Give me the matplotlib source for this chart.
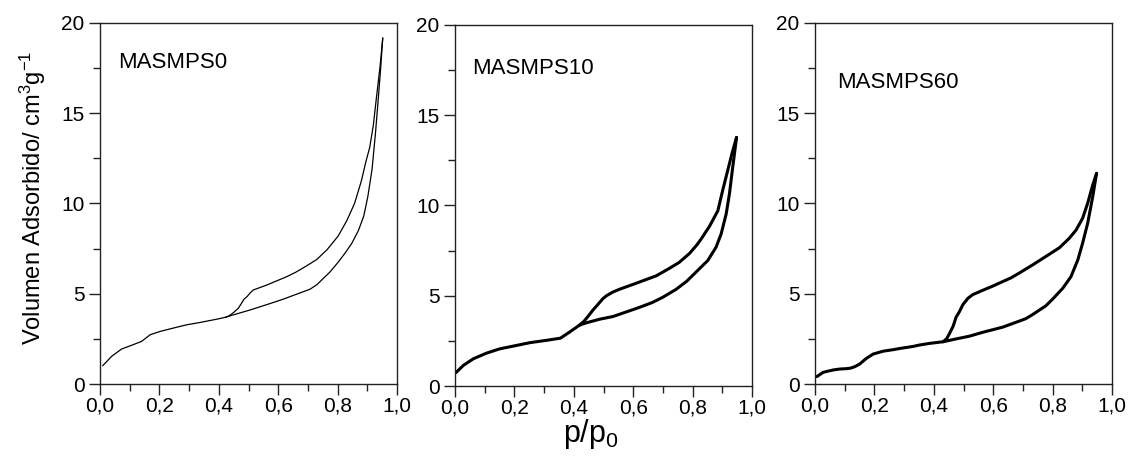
import numpy as np
import matplotlib
matplotlib.use("Agg")
import matplotlib.pyplot as plt
from matplotlib.ticker import MultipleLocator

plt.rcParams['font.family'] = ['Liberation Sans', 'DejaVu Sans']
plt.rcParams['mathtext.fontset'] = 'custom'
plt.rcParams['mathtext.rm'] = 'Liberation Sans'
plt.rcParams['mathtext.it'] = 'Liberation Sans'

# (p/p0, volumen adsorbido)
s0_ads_x = [0.009, 0.039, 0.073, 0.112, 0.14, 0.169, 0.202, 0.247, 0.292, 0.337, 0.393, 0.421,
            0.449, 0.505, 0.562, 0.617, 0.674, 0.707, 0.730, 0.774, 0.802, 0.825, 0.848, 0.870,
            0.888, 0.902, 0.916, 0.927, 0.936, 0.945, 0.952]
s0_ads_y = [1.01, 1.53, 1.94, 2.18, 2.36, 2.73, 2.91, 3.10, 3.28, 3.41, 3.59, 3.69,
            3.83, 4.10, 4.40, 4.70, 5.05, 5.25, 5.50, 6.20, 6.75, 7.25, 7.80, 8.50,
            9.30, 10.40, 11.9, 13.8, 15.6, 17.5, 19.17]
s0_des_x = [0.952, 0.943, 0.931, 0.92, 0.908, 0.895, 0.88, 0.857, 0.831, 0.802, 0.765, 0.73,
            0.696, 0.66, 0.628, 0.59, 0.561, 0.528, 0.516, 0.506, 0.495, 0.485, 0.466, 0.449,
            0.435, 0.421]
s0_des_y = [19.17, 17.6, 15.9, 14.3, 13.1, 12.3, 11.25, 10.0, 9.05, 8.2, 7.45, 6.9,
            6.55, 6.2, 5.94, 5.68, 5.48, 5.28, 5.21, 5.05, 4.84, 4.7, 4.2, 3.95,
            3.78, 3.69]

s10_ads_x = [0.003, 0.028, 0.062, 0.106, 0.151, 0.196, 0.252, 0.308, 0.355, 0.386, 0.419, 0.442,
             0.487, 0.532, 0.576, 0.62, 0.665, 0.70, 0.744, 0.78, 0.814, 0.851, 0.879, 0.896,
             0.913, 0.924, 0.935, 0.948]
s10_ads_y = [0.74, 1.14, 1.51, 1.82, 2.06, 2.21, 2.40, 2.53, 2.65, 2.99, 3.37, 3.50,
             3.70, 3.85, 4.10, 4.35, 4.63, 4.92, 5.35, 5.80, 6.35, 6.95, 7.69, 8.42,
             9.53, 10.64, 12.11, 13.77]
s10_des_x = [0.948, 0.935, 0.918, 0.901, 0.885, 0.857, 0.829, 0.816, 0.79, 0.755, 0.72, 0.677,
             0.644, 0.598, 0.554, 0.531, 0.51, 0.498, 0.476, 0.464, 0.45, 0.435, 0.419]
s10_des_y = [13.77, 13.03, 11.93, 10.82, 9.71, 8.85, 8.15, 7.85, 7.35, 6.85, 6.50, 6.10,
             5.90, 5.62, 5.36, 5.20, 5.00, 4.84, 4.42, 4.20, 3.90, 3.60, 3.37]

s60_ads_x = [0.006, 0.028, 0.062, 0.084, 0.106, 0.12, 0.134, 0.15, 0.173, 0.196, 0.23, 0.263,
             0.286, 0.33, 0.352, 0.386, 0.431, 0.47, 0.52, 0.566, 0.632, 0.677, 0.71, 0.733,
             0.777, 0.80, 0.817, 0.834, 0.862, 0.885, 0.901, 0.918, 0.935, 0.948]
s60_ads_y = [0.41, 0.65, 0.78, 0.83, 0.85, 0.88, 0.96, 1.10, 1.42, 1.66, 1.82, 1.90,
             1.97, 2.08, 2.16, 2.25, 2.34, 2.48, 2.65, 2.87, 3.15, 3.42, 3.62, 3.85,
             4.33, 4.70, 5.00, 5.30, 5.95, 6.88, 7.80, 8.90, 10.37, 11.67]
s60_des_x = [0.948, 0.935, 0.918, 0.901, 0.879, 0.856, 0.823, 0.79, 0.733, 0.688, 0.66, 0.622,
             0.598, 0.566, 0.531, 0.515, 0.498, 0.486, 0.475, 0.465, 0.453, 0.443, 0.431]
s60_des_y = [11.67, 11.02, 10.01, 9.18, 8.53, 8.07, 7.55, 7.20, 6.60, 6.15, 5.88, 5.60,
             5.42, 5.20, 4.95, 4.75, 4.40, 4.00, 3.70, 3.20, 2.80, 2.50, 2.34]

nombres = ['MASMPS0', 'MASMPS10', 'MASMPS60']
x_ticks = [0.0, 0.2, 0.4, 0.6, 0.8, 1.0]
x_labels = ['0,0', '0,2', '0,4', '0,6', '0,8', '1,0']
y_ticks = [0, 5, 10, 15, 20]
y_labels = ['0', '5', '10', '15', '20']

series = [
    (s0_ads_x, s0_ads_y, s0_des_x, s0_des_y),
    (s10_ads_x, s10_ads_y, s10_des_x, s10_des_y),
    (s60_ads_x, s60_ads_y, s60_des_x, s60_des_y),
]
grosor = [0.9, 2.2, 2.2]
lefts = [100, 455, 815]
bottoms = [77, 75, 77]
etiqueta_pos = [(0.06, 17.8), (0.057, 17.6), (0.074, 16.7)]

W, H = 1130, 461
fig = plt.figure(figsize=(W / 100, H / 100), dpi=100)

for i in range(3):
    ax = fig.add_axes([lefts[i] / W, bottoms[i] / H, 297 / W, 361 / H])
    ad_x, ad_y, de_x, de_y = series[i]
    ax.plot(ad_x, ad_y, color='black', lw=grosor[i], solid_capstyle='round', solid_joinstyle='round')
    ax.plot(de_x, de_y, color='black', lw=grosor[i], solid_capstyle='round', solid_joinstyle='round')
    ax.set_xlim(0, 1.0)
    ax.set_ylim(0, 20)
    ax.set_xticks(x_ticks)
    ax.set_xticklabels(x_labels)
    ax.set_yticks(y_ticks)
    ax.set_yticklabels(y_labels)
    ax.xaxis.set_minor_locator(MultipleLocator(0.1))
    ax.yaxis.set_minor_locator(MultipleLocator(2.5))
    ax.tick_params(which='major', direction='out', length=8, width=1, labelsize=15,
                   top=False, right=False, color='#222222')
    ax.tick_params(axis='x', which='major', pad=1)
    ax.tick_params(axis='y', which='major', pad=3)
    ax.tick_params(which='minor', direction='out', length=5, width=1,
                   top=False, right=False, color='#222222')
    for sp in ax.spines.values():
        sp.set_linewidth(1)
        sp.set_color('#222222')
    tx, ty = etiqueta_pos[i]
    ax.text(tx, ty, nombres[i], fontsize=16, va='center', ha='left')
    if i == 0:
        ax.set_ylabel('Volumen Adsorbido/ cm$^{3}$g$^{-1}$', fontsize=17, ha='center', va='center')
        ax.yaxis.set_label_coords(-0.226, 0.515)

fig.text(563 / W, (H - 442) / H, 'p/p$_{0}$', fontsize=22, ha='left', va='baseline')

fig.savefig('out.png', dpi=100)
